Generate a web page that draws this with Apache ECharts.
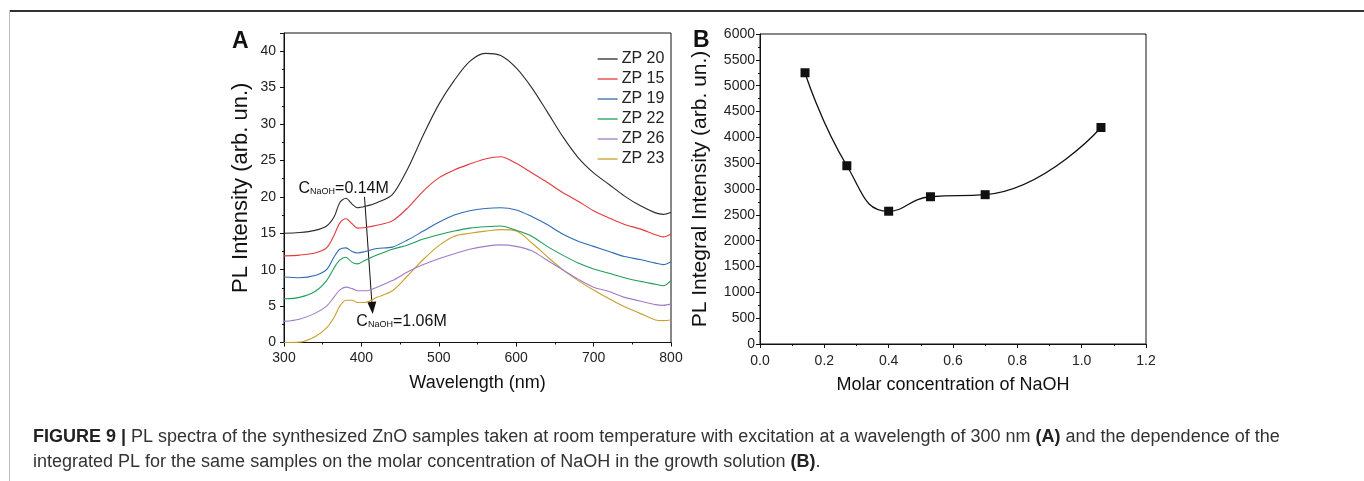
<!DOCTYPE html>
<html>
<head>
<meta charset="utf-8">
<script src="https://cdn.jsdelivr.net/npm/echarts@6/dist/echarts.min.js"></script>
<style>html,body{margin:0;padding:0;background:#fff;}#c{width:1364px;height:481px;}</style>
</head>
<body>
<div id="c"></div>
<script>
// ---- Panel A data: PL spectra ----
const wavelength = [300, 320, 340, 355, 365, 372, 380, 388, 395, 405, 420, 440, 460, 480, 500, 520, 540, 560, 580, 600, 620, 640, 660, 680, 700, 720, 740, 760, 780, 790, 800];
const zp20 = [15.0, 15.1, 15.4, 16.0, 17.3, 19.2, 19.8, 19.0, 18.5, 18.7, 19.2, 20.3, 23.9, 28.5, 32.7, 36.0, 38.6, 39.7, 39.4, 37.7, 35.0, 31.7, 28.3, 25.4, 23.3, 21.7, 20.1, 18.8, 17.8, 17.6, 17.9];
const zp15 = [11.9, 12.0, 12.3, 13.0, 14.8, 16.4, 17.0, 16.3, 15.7, 15.8, 16.1, 16.7, 18.5, 20.8, 22.6, 23.7, 24.5, 25.2, 25.5, 24.6, 23.3, 22.0, 20.6, 19.4, 18.1, 17.1, 16.2, 15.6, 14.8, 14.5, 14.9];
const zp19 = [9.0, 8.9, 9.2, 10.0, 11.8, 12.8, 13.0, 12.5, 12.3, 12.5, 12.9, 13.1, 14.1, 15.3, 16.5, 17.5, 18.1, 18.4, 18.5, 18.2, 17.3, 16.2, 14.9, 13.9, 13.2, 12.5, 11.8, 11.4, 10.9, 10.7, 11.1];
const zp22 = [6.0, 6.2, 7.0, 8.5, 10.3, 11.3, 11.7, 11.0, 10.8, 11.3, 12.0, 12.8, 13.4, 14.2, 14.8, 15.3, 15.7, 15.9, 16.0, 15.4, 14.6, 13.2, 12.0, 10.9, 10.1, 9.5, 8.9, 8.4, 8.0, 7.8, 8.5];
const zp26 = [2.9, 3.2, 4.0, 5.0, 6.3, 7.2, 7.6, 7.4, 7.1, 7.1, 7.6, 8.5, 9.7, 10.7, 11.5, 12.2, 12.8, 13.2, 13.4, 13.2, 12.6, 11.3, 10.0, 8.7, 7.6, 7.0, 6.2, 5.7, 5.2, 5.1, 5.3];
const zp23 = [0.0, 0.05, 0.8, 2.0, 3.5, 5.0, 5.8, 5.8, 5.5, 5.5, 6.2, 7.1, 9.2, 11.4, 13.3, 14.6, 15.0, 15.3, 15.5, 15.3, 13.7, 11.8, 10.0, 8.5, 7.2, 6.0, 4.9, 4.0, 3.1, 3.0, 3.1];
const seriesNames = ['ZP 20', 'ZP 15', 'ZP 19', 'ZP 22', 'ZP 26', 'ZP 23'];
const seriesColors = ['#2b2b2b', '#e43a3a', '#2f6cb3', '#1f9d5c', '#a27cc8', '#c9a02e'];
const seriesValues = [zp20, zp15, zp19, zp22, zp26, zp23];
const yTicksA = [0, 5, 10, 15, 20, 25, 30, 35, 40];
const xTicksA = [300, 400, 500, 600, 700, 800];

// ---- Panel B data: integrated PL ----
const naohConc = [0.14, 0.27, 0.40, 0.53, 0.70, 1.06];
const integralPL = [5250, 3450, 2570, 2850, 2890, 4190];

// ---- Annotations ----
const arrowFrom = [404, 20.0];
const arrowTo = [414, 4.75];
const labelTop = {coord: [318.7, 21.2], value: '0.14M'};
const labelBottom = {coord: [393.5, 2.9], value: '1.06M'};

const FONT = 'Liberation Sans, Arial, Helvetica, sans-serif';
const chart = echarts.init(document.getElementById('c'), null, {renderer: 'canvas'});

const axisCommon = {
  axisLine: {show: true, onZero: false, lineStyle: {color: '#111', width: 1}},
  axisTick: {show: true, inside: false, length: 4, lineStyle: {color: '#111'}},
  minorTick: {show: true, splitNumber: 2, length: 2, lineStyle: {color: '#111'}},
  splitLine: {show: false},
  axisLabel: {color: '#222', fontSize: 14, fontFamily: FONT},
  nameTextStyle: {color: '#111', fontSize: 18, fontFamily: FONT}
};

const seriesA = seriesNames.map((name, k) => ({
  name: name,
  type: 'line',
  xAxisIndex: 0, yAxisIndex: 0,
  data: wavelength.map((w, i) => [w, seriesValues[k][i]]),
  symbol: 'none',
  smooth: 0.3,
  lineStyle: {color: seriesColors[k], width: 1.1},
  itemStyle: {color: seriesColors[k]},
  z: 10 - k
}));

seriesA[0].markLine = {
  silent: true,
  symbol: ['none', 'triangle'],
  symbolSize: [9, 12],
  lineStyle: {color: '#111', width: 1, type: 'solid'},
  label: {show: false},
  data: [[{coord: arrowFrom}, {coord: arrowTo}]]
};

const option = {
  animation: false,
  backgroundColor: '#fff',
  textStyle: {fontFamily: FONT},
  grid: [
    {left: 284, right: 693, top: 33, bottom: 138.5, show: true, borderColor: '#111', borderWidth: 1, backgroundColor: 'transparent'},
    {left: 760, right: 218, top: 34, bottom: 137, show: true, borderColor: '#111', borderWidth: 1, backgroundColor: 'transparent'}
  ],
  legend: {
    data: seriesNames,
    orient: 'vertical',
    left: 592, top: 46,
    itemWidth: 20, itemHeight: 14, itemGap: 4,
    itemStyle: {opacity: 0},
    lineStyle: {width: 1.3},
    textStyle: {fontSize: 16, lineHeight: 16, color: '#222', fontFamily: FONT, padding: [0, 0, 0, -1]},
    selectedMode: false
  },
  xAxis: [
    Object.assign({}, axisCommon, {
      type: 'value', gridIndex: 0, min: 300, max: 800, interval: 100,
      name: 'Wavelength (nm)', nameLocation: 'middle', nameGap: 32,
      axisLabel: Object.assign({}, axisCommon.axisLabel, {margin: 9, formatter: v => xTicksA.includes(v) ? String(v) : ''})
    }),
    Object.assign({}, axisCommon, {
      type: 'value', gridIndex: 1, min: 0, max: 1.2, interval: 0.2,
      name: 'Molar concentration of NaOH', nameLocation: 'middle', nameGap: 32,
      axisLabel: Object.assign({}, axisCommon.axisLabel, {margin: 10, formatter: v => v.toFixed(1)})
    })
  ],
  yAxis: [
    Object.assign({}, axisCommon, {
      type: 'value', gridIndex: 0, min: 0, max: 42.5, interval: 5,
      name: 'PL Intensity (arb. un.)', nameLocation: 'middle', nameGap: 32,
      nameTextStyle: Object.assign({}, axisCommon.nameTextStyle, {fontSize: 22}),
      axisLabel: Object.assign({}, axisCommon.axisLabel, {margin: 8, showMaxLabel: false, formatter: v => yTicksA.includes(v) ? String(v) : ''})
    }),
    Object.assign({}, axisCommon, {
      type: 'value', gridIndex: 1, min: 0, max: 6000, interval: 500,
      name: 'PL Integral Intensity (arb. un.)', nameLocation: 'middle', nameGap: 49,
      nameTextStyle: Object.assign({}, axisCommon.nameTextStyle, {fontSize: 21}),
      axisLabel: Object.assign({}, axisCommon.axisLabel, {margin: 5, formatter: v => String(v)})
    })
  ],
  series: seriesA.concat([{
    name: 'integral',
    type: 'line',
    xAxisIndex: 1, yAxisIndex: 1,
    data: naohConc.map((c, i) => [c, integralPL[i]]),
    smooth: 0.5,
    symbol: 'rect', symbolSize: 9,
    lineStyle: {color: '#111', width: 1.3},
    itemStyle: {color: '#111'},
    z: 20
  }]),
  graphic: [
    {type: 'rect', shape: {x: 9, y: 10, width: 1355, height: 2}, style: {fill: '#333'}, silent: true},
    {type: 'rect', shape: {x: 9, y: 10, width: 1, height: 471}, style: {fill: '#bbb'}, silent: true},
    {type: 'text', left: 232, top: 30, style: {text: 'A', font: 'bold 23px ' + FONT, fill: '#111'}},
    {type: 'text', left: 693, top: 29, style: {text: 'B', font: 'bold 23px ' + FONT, fill: '#111'}},
    {type: 'text', left: 33, top: 428, style: {
      text: '{b|FIGURE 9 |} PL spectra of the synthesized ZnO samples taken at room temperature with excitation at a wavelength of 300 nm {b|(A)} and the dependence of the',
      font: '18px ' + FONT, fill: '#333',
      rich: {b: {fontWeight: 'bold', fontSize: 18, fontFamily: FONT, fill: '#222'}}
    }},
    {type: 'text', left: 33, top: 453, style: {
      text: 'integrated PL for the same samples on the molar concentration of NaOH in the growth solution {b|(B)}.',
      font: '18px ' + FONT, fill: '#333',
      rich: {b: {fontWeight: 'bold', fontSize: 18, fontFamily: FONT, fill: '#222'}}
    }}
  ]
};
chart.setOption(option);

// Concentration labels positioned in data coordinates of panel A
function concLabel(item) {
  const p = chart.convertToPixel({gridIndex: 0}, item.coord);
  return {
    type: 'text', x: p[0], y: p[1],
    style: {
      text: '{c|C}{s|NaOH}{c|=' + item.value + '}',
      verticalAlign: 'middle', align: 'left',
      rich: {
        c: {fontSize: 16, fontFamily: FONT, fill: '#111', verticalAlign: 'bottom'},
        s: {fontSize: 9, fontFamily: FONT, fill: '#111', verticalAlign: 'bottom'}
      }
    }
  };
}
chart.setOption({graphic: option.graphic.concat([concLabel(labelTop), concLabel(labelBottom)])});
</script>
</body>
</html>
